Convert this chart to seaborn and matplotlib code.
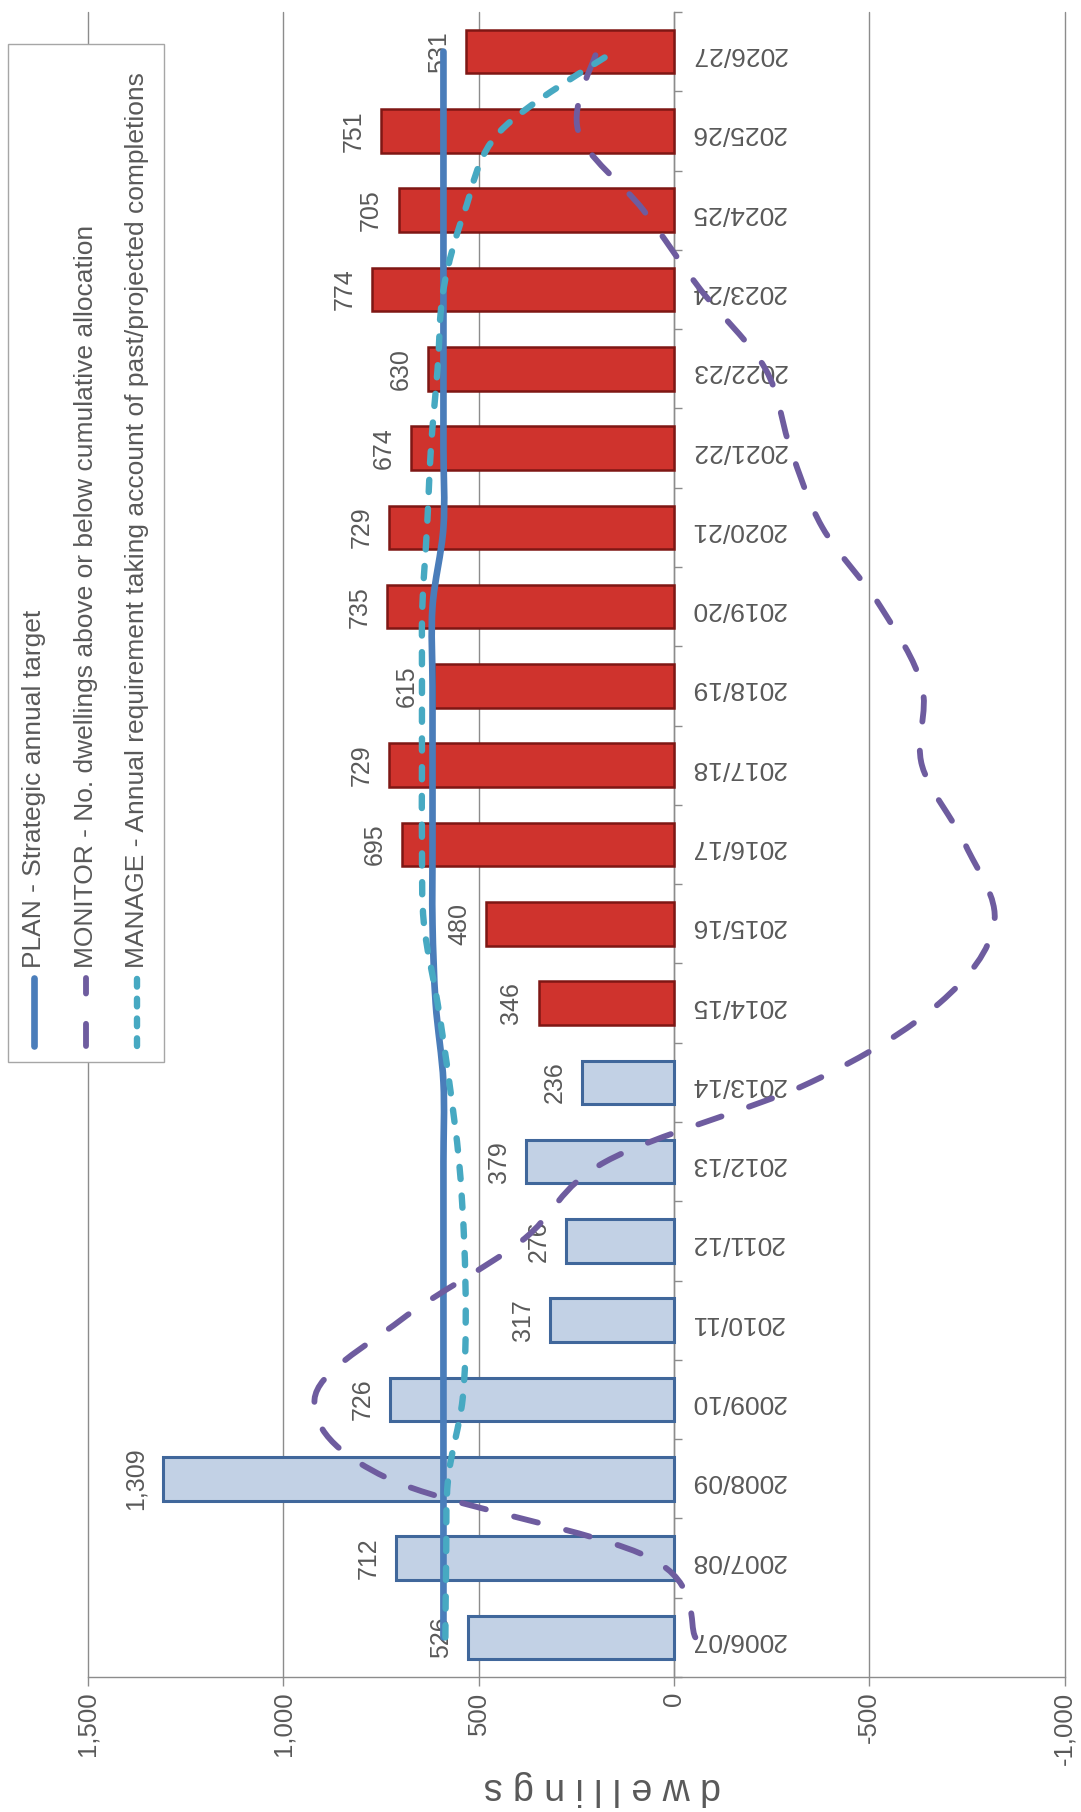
import matplotlib
matplotlib.use("Agg")
import matplotlib.pyplot as plt
from matplotlib.path import Path
from matplotlib.patches import PathPatch, Rectangle
from matplotlib.lines import Line2D
import numpy as np
import pandas as pd
import seaborn as sns

# ---- data ----
years = ["2006/07", "2007/08", "2008/09", "2009/10", "2010/11", "2011/12", "2012/13",
         "2013/14", "2014/15", "2015/16", "2016/17", "2017/18", "2018/19", "2019/20",
         "2020/21", "2021/22", "2022/23", "2023/24", "2024/25", "2025/26", "2026/27"]
completions = [526, 712, 1309, 726, 317, 276, 379, 236, 346, 480, 695, 729, 615,
               735, 729, 674, 630, 774, 705, 751, 531]
status = ["Past"] * 8 + ["Projected"] * 13
plan = [590, 590, 590, 590, 590, 590, 590, 590, 610, 618, 618, 618, 618, 618,
        590, 590, 590, 590, 590, 590, 590]
monitor = [-55, 60, 730, 920, 700, 390, 175, -350, -680, -820, -746, -635, -635,
           -529, -380, -298, -234, -68, 78, 245, 198]
manage = [585, 583, 578, 541, 533, 537, 550, 575, 605, 640, 645, 645, 645, 644,
          632, 622, 605, 590, 535, 444, 155]

legend_labels = ["PLAN - Strategic annual target",
                 "MONITOR - No. dwellings above or below cumulative allocation",
                 "MANAGE - Annual requirement taking account of past/projected completions"]

W, H = 1081, 1812
txt_c = "#595959"
grid_c = "#8c8c8c"
plan_c, monitor_c, manage_c = "#4a7dba", "#6e5c9f", "#47a9c2"

sns.set_style("white")
plt.rcParams["font.family"] = ["Liberation Sans", "DejaVu Sans"]


def smooth_path(xs, ys):
    # cubic bezier through every point (like a spreadsheet "smoothed line")
    pts = np.column_stack([xs, ys]).astype(float)
    n = len(pts)
    verts, codes = [pts[0]], [Path.MOVETO]
    for i in range(n - 1):
        p0, p1 = pts[max(i - 1, 0)], pts[i]
        p2, p3 = pts[i + 1], pts[min(i + 2, n - 1)]
        verts += [p1 + (p2 - p0) / 6, p2 - (p3 - p1) / 6, p2]
        codes += [Path.CURVE4] * 3
    return Path(verts, codes)


fig = plt.figure(figsize=(W / 100, H / 100), dpi=100)
ax = fig.add_axes([88 / W, 1 - 1677 / H, (1064.5 - 88) / W, (1677 - 12) / H])

df = pd.DataFrame({"year": years, "completions": completions, "status": status})
sns.barplot(data=df, x="completions", y="year", hue="status", order=years,
            palette={"Past": "#c2d1e5", "Projected": "#cf332d"}, dodge=False,
            orient="h", width=0.55, saturation=1, legend=False, ax=ax, zorder=3)
for bar in ax.patches:
    r, g, b, _ = bar.get_facecolor()
    if r > 0.6 and g < 0.4:
        bar.set_edgecolor("#7e1714")
        bar.set_linewidth(1.8)
    else:
        bar.set_edgecolor("#40679b")
        bar.set_linewidth(2.2)

ypos = np.arange(len(years))
ax.add_patch(PathPatch(smooth_path(plan, ypos), fill=False, color=plan_c, lw=4.8,
                       capstyle="round", zorder=5))
ax.add_patch(PathPatch(smooth_path(monitor, ypos), fill=False, color=monitor_c, lw=4.2,
                       linestyle=(0, (4.2, 5.0)), capstyle="round", zorder=6))
ax.add_patch(PathPatch(smooth_path(manage, ypos), fill=False, color=manage_c, lw=4.6,
                       linestyle=(0, (1.9, 2.6)), capstyle="round", zorder=7))

for i, v in enumerate(completions):
    ax.annotate(f"{v:,}", xy=(v, i), xytext=(-11, 0), textcoords="offset points",
                rotation=90, ha="right", va="center", fontsize=18, color=txt_c, zorder=4)

ax.set_xlim(1500, -1000)
ax.set_ylim(-0.5, len(years) - 0.5)
ax.set_xlabel("")
ax.set_ylabel("")

xt = [1500, 1000, 500, 0, -500, -1000]
ax.set_xticks(xt, labels=[f"{t:,}" for t in xt])
ax.tick_params(axis="x", direction="out", length=6.5, width=1, color=grid_c, pad=4,
               bottom=True, labelsize=18.5, labelcolor=txt_c, labelrotation=90)
ax.grid(axis="x", color=grid_c, lw=1)
ax.grid(axis="y", visible=False)
for gl in ax.get_xgridlines():
    gl.set_clip_on(False)

ax.set_yticks(ypos, labels=years)
ax.set_yticks(np.arange(-0.5, len(years), 1), minor=True)
ax.tick_params(axis="y", which="both", left=False, right=True,
               labelleft=False, labelright=True)
ax.tick_params(axis="y", which="major", length=0, pad=12, labelsize=19,
               labelcolor=txt_c, labelrotation=180)
ax.tick_params(axis="y", which="minor", length=5.8, width=1, color=grid_c, direction="out")
for t in ax.yaxis.get_major_ticks():
    t.label2.set_va("center")

ax.spines["top"].set_visible(False)
ax.spines["left"].set_visible(False)
ax.spines["right"].set_position(("data", 0))
ax.spines["right"].set_color(grid_c)
ax.spines["bottom"].set_color(grid_c)
for s in ["right", "bottom"]:
    ax.spines[s].set_linewidth(1)
    ax.spines[s].set_zorder(2)

# axis title, upside down like the rest of the page
fig.text(602 / W, 1 - 1788 / H, "d w e l l i n g s", rotation=180, ha="center",
         va="center", fontsize=27, color=txt_c)

# legend box drawn by hand so its text can be rotated
fig.add_artist(Rectangle((8 / W, 1 - 1062 / H), (164 - 8) / W, (1062 - 44) / H,
                         transform=fig.transFigure, facecolor="white",
                         edgecolor="#a6a6a6", lw=1, zorder=10))
styles = [(plan_c, 4.8, "-"), (monitor_c, 4.2, (0, (3.8, 5.2))),
          (manage_c, 4.6, (0, (1.2, 1.9)))]
for xpix, lab, (c, lw, ls) in zip([34, 86, 137], legend_labels, styles):
    fig.add_artist(Line2D([xpix / W, xpix / W], [1 - 1046 / H, 1 - 978 / H],
                          transform=fig.transFigure, color=c, lw=lw, ls=ls,
                          dash_capstyle="round", solid_capstyle="round", zorder=11))
    fig.text(xpix / W, 1 - 968 / H, lab, rotation=90, ha="center", va="bottom",
             fontsize=19, color=txt_c, zorder=11)

fig.savefig("out.png", dpi=100)
